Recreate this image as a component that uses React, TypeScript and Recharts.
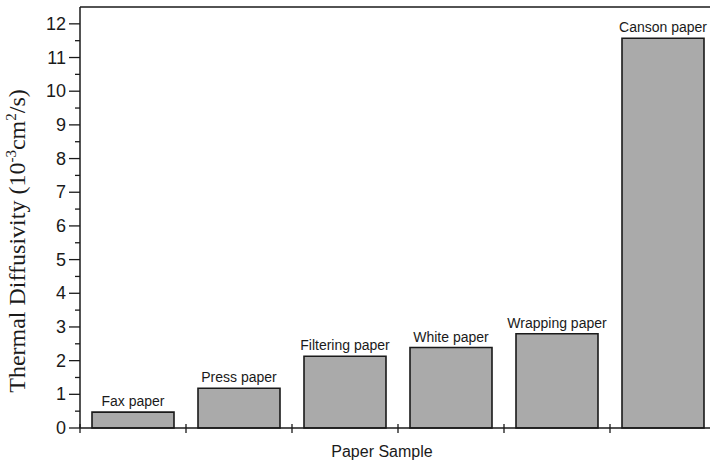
import React from "react";
import { BarChart, Bar, XAxis, YAxis, LabelList, ReferenceLine } from "recharts";

const categories = [
  "Fax paper",
  "Press paper",
  "Filtering paper",
  "White paper",
  "Wrapping paper",
  "Canson paper",
];
const diffusivity = [0.47, 1.18, 2.13, 2.39, 2.8, 11.57];
const yTicks = Array.from({ length: 25 }, (_, i) => i * 0.5);

const data = categories.map((name, i) => ({ name, value: diffusivity[i] }));

const CHART_W = 730;
const CHART_H = 466;
const MARGIN = { top: 7, right: 14, bottom: 0, left: 0 };
const Y_AXIS_W = 80;
const PLOT_W = CHART_W - MARGIN.left - MARGIN.right - Y_AXIS_W;
const BAND = PLOT_W / categories.length;

const SANS = "'Liberation Sans', Arial, sans-serif";
const SERIF = "'Liberation Serif', 'Times New Roman', serif";
const INK = "#1a1a1a";

const YTick = ({ x, y, payload }: any) => {
  const major = Number.isInteger(payload.value);
  return (
    <g>
      <line x1={x - (major ? 11 : 5)} x2={x} y1={y} y2={y} stroke={INK} strokeWidth={1.3} />
      {major && (
        <text
          x={x - 14}
          y={y}
          textAnchor="end"
          dominantBaseline="central"
          fontSize={18}
          fontFamily={SANS}
          fill={INK}
        >
          {payload.value}
        </text>
      )}
    </g>
  );
};

// ticks sit on the category boundaries and cross the axis line
const XTick = ({ x, y, index }: any) => {
  const left = x - BAND / 2;
  return (
    <g>
      <line x1={left} x2={left} y1={y - 4} y2={y + 5} stroke={INK} strokeWidth={1.3} />
      {index === categories.length - 1 && (
        <line x1={x + BAND / 2} x2={x + BAND / 2} y1={y - 4} y2={y + 5} stroke={INK} strokeWidth={1.3} />
      )}
    </g>
  );
};

// single-line name above each bar
const BarName = ({ x, y, width, value }: any) => (
  <text
    x={x + width / 2}
    y={y - 6}
    textAnchor="middle"
    fontSize={14}
    fontFamily={SANS}
    fill={INK}
  >
    {value}
  </text>
);

const YLabel = () => (
  <text
    x={25}
    y={241}
    transform="rotate(-90, 25, 241)"
    textAnchor="middle"
    fontSize={24}
    fontFamily={SERIF}
    fill={INK}
  >
    Thermal Diffusivity (10
    <tspan dy={-9} fontSize={15}>-3</tspan>
    <tspan dy={9}>cm</tspan>
    <tspan dy={-9} fontSize={15}>2</tspan>
    <tspan dy={9}>/s)</tspan>
  </text>
);

const XLabel = () => (
  <text x={382} y={457} textAnchor="middle" fontSize={16} fontFamily={SANS} fill={INK}>
    Paper Sample
  </text>
);

export default function App() {
  return (
    <div
      style={{
        position: "absolute",
        left: 0,
        top: 0,
        width: 710,
        height: 466,
        overflow: "hidden",
        background: "#fff",
      }}
    >
      <BarChart width={CHART_W} height={CHART_H} data={data} margin={MARGIN} barCategoryGap={12}>
        <XAxis
          dataKey="name"
          height={38}
          interval={0}
          tickSize={0}
          tickMargin={0}
          tickLine={false}
          tick={<XTick />}
          axisLine={{ stroke: INK, strokeWidth: 1.5 }}
          label={<XLabel />}
        />
        <YAxis
          width={Y_AXIS_W}
          domain={[0, 12.5]}
          ticks={yTicks}
          interval={0}
          tickSize={0}
          tickMargin={0}
          tickLine={false}
          tick={<YTick />}
          axisLine={{ stroke: INK, strokeWidth: 1.5 }}
          label={<YLabel />}
        />
        <ReferenceLine y={12.5} stroke={INK} strokeWidth={1.5} />
        <Bar dataKey="value" fill="#aaaaaa" stroke={INK} strokeWidth={1.6} isAnimationActive={false}>
          <LabelList dataKey="name" content={<BarName />} />
        </Bar>
      </BarChart>
    </div>
  );
}
